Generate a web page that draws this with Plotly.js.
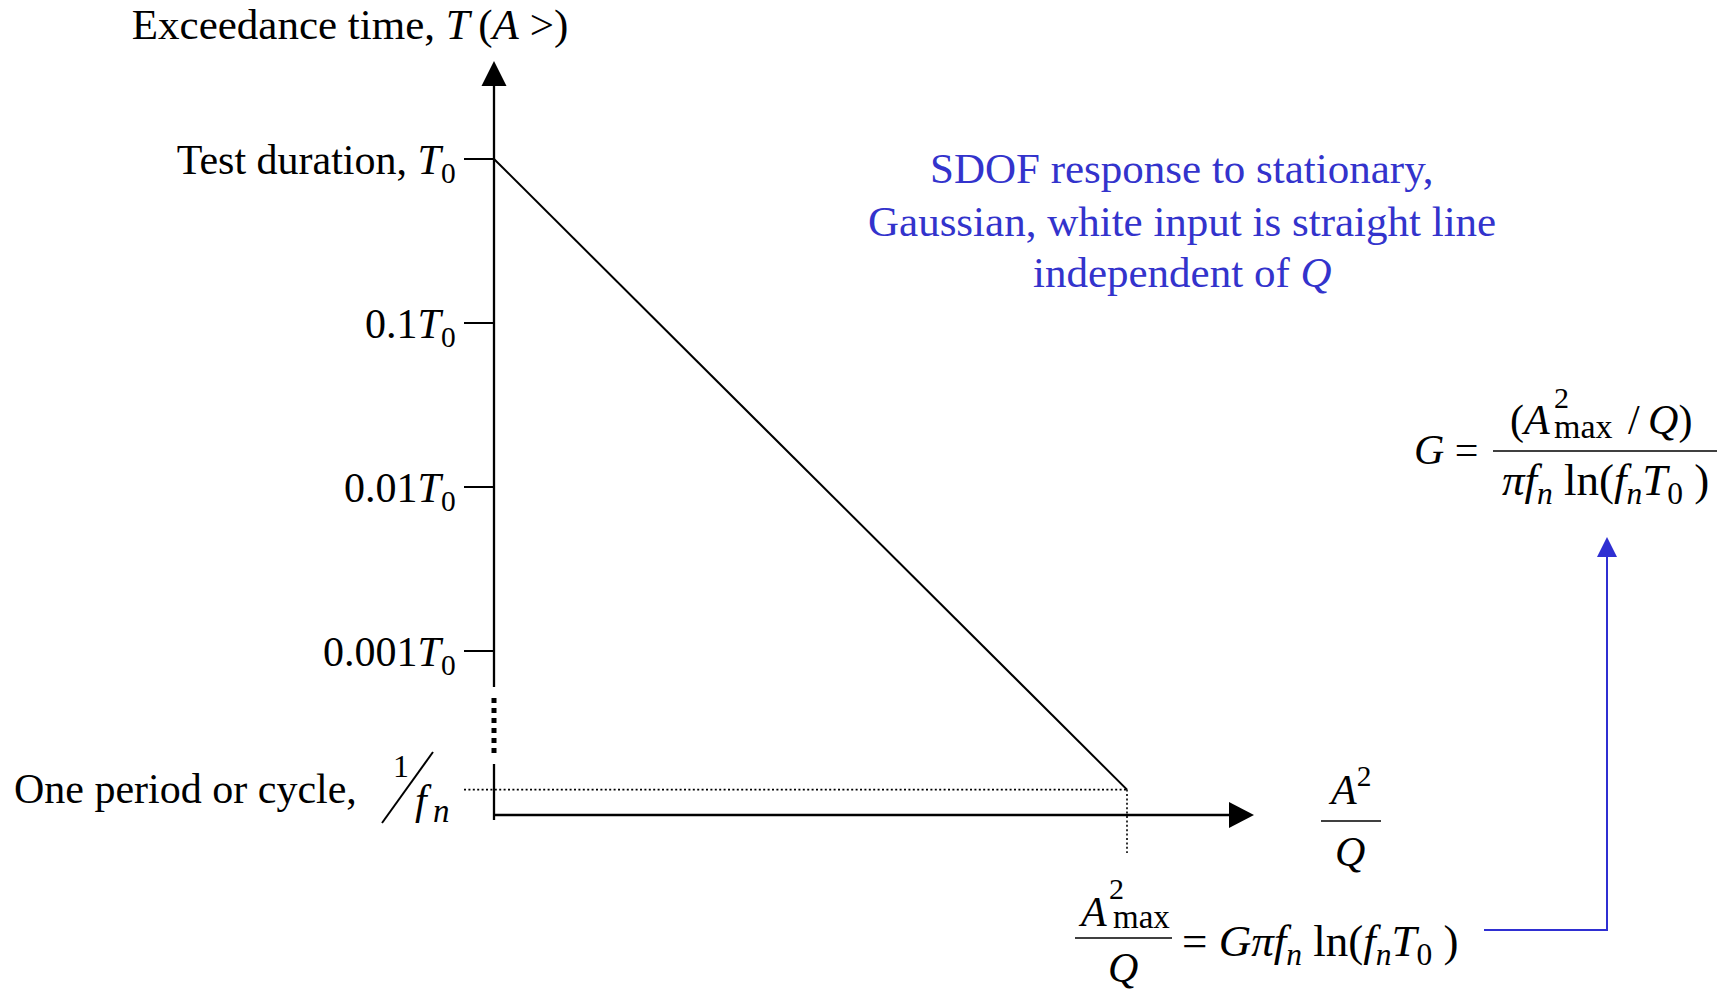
<!DOCTYPE html>
<html>
<head>
<meta charset="utf-8">
<script src="https://cdn.plot.ly/plotly-3.0.1.min.js"></script>
<style>
  html, body { margin: 0; padding: 0; background: #fff; }
  #chart { width: 1732px; height: 993px; }
</style>
</head>
<body>
<div id="chart"></div>
<script>
// Exceedance-time levels marked on the vertical axis (fractions of the test duration T0)
const tickValues = [1, 0.1, 0.01, 0.001];
const tickLabels = [
  'Test duration, <i>T</i><sub>0</sub>',
  '0.1<i>T</i><sub>0</sub>',
  '0.01<i>T</i><sub>0</sub>',
  '0.001<i>T</i><sub>0</sub>'
];
// Number of response cycles during the test, f_n * T0
const cyclesInTest = 7000;
// Straight-line exceedance curve: A^2/Q (relative to A^2max/Q) against exceedance time / T0
const responseLevel = [0, 1];
const exceedanceTime = [1, 1 / cyclesInTest];
const onePeriod = exceedanceTime[1];

// ---- page geometry (pixels) ----
const W = 1732, H = 993;
const X_ORIGIN = 494;   // pixel column of A^2/Q = 0
const X_UNIT = 633;     // pixels per A^2max/Q
const Y_T0 = 159;       // pixel row of T = T0
const Y_DECADE = 164;   // pixels per decade of exceedance time
const SERIF = '"Liberation Serif", "Times New Roman", serif';
const BLUE = '#3333cc';
const LINE_BLUE = '#2f2fd2';
const FS = 42;          // main text size
const NB = '\u00a0';    // non-collapsing space for formula spacing
const THIN = '\u2009';  // thin space

const dataX = px => (px - X_ORIGIN) / X_UNIT;
const dataY = py => Math.pow(10, -(py - Y_T0) / Y_DECADE);
const paperX = px => px / W;
const paperY = py => 1 - py / H;

const TICK_LEN = 30;
const X_AXIS_T = dataY(815);       // level where the horizontal axis crosses

const black = { color: '#000', width: 2.3 };
const thinDots = { color: '#000', width: 1.6, dash: '2px,2.4px' };

const traces = [
  // vertical axis, broken between 0.001T0 and one period
  { x: [0, 0], y: [dataY(687), dataY(80)], mode: 'lines', line: black },
  { x: [0, 0], y: [dataY(698), dataY(758)], mode: 'lines',
    line: { color: '#000', width: 5, dash: '5px,5px' } },
  { x: [0, 0], y: [dataY(764), dataY(820)], mode: 'lines', line: black },
  // horizontal axis
  { x: [dataX(X_ORIGIN - 1), dataX(1235)], y: [X_AXIS_T, X_AXIS_T], mode: 'lines', line: black },
  // guide lines to the end point of the exceedance line
  { x: [dataX(X_ORIGIN - TICK_LEN), responseLevel[1]], y: [onePeriod, onePeriod],
    mode: 'lines', line: thinDots },
  { x: [responseLevel[1], responseLevel[1]], y: [onePeriod, dataY(853)],
    mode: 'lines', line: thinDots },
  // exceedance line
  { x: responseLevel, y: exceedanceTime, mode: 'lines', line: { color: '#000', width: 2 } },
  // connector from the A^2max/Q relation to the G formula
  { x: [dataX(1484), dataX(1607), dataX(1607)], y: [dataY(930), dataY(930), dataY(552)],
    mode: 'lines', line: { color: LINE_BLUE, width: 2 } }
];

function note(text, x, y, opts) {
  const o = Object.assign({ size: FS, color: '#000' }, opts || {});
  return {
    text: text, x: paperX(x), y: paperY(y), xref: 'paper', yref: 'paper',
    showarrow: false, xanchor: o.xanchor || 'center', yanchor: 'middle',
    font: { family: SERIF, size: o.size, color: o.color }
  };
}
function rule(x0, x1, y) {
  return { type: 'line', xref: 'paper', yref: 'paper',
    x0: paperX(x0), x1: paperX(x1), y0: paperY(y), y1: paperY(y),
    line: { color: '#000', width: 1.6 } };
}
// filled triangular arrow head: tip position, direction ('up' | 'right'), length and width in px
function head(tx, ty, dir, len, wid, color) {
  const pts = dir === 'up'
    ? [[tx, ty], [tx - wid / 2, ty + len], [tx + wid / 2, ty + len]]
    : [[tx, ty], [tx - len, ty - wid / 2], [tx - len, ty + wid / 2]];
  const d = 'M' + pts.map(p => paperX(p[0]).toFixed(5) + ',' + paperY(p[1]).toFixed(5)).join('L') + 'Z';
  return { type: 'path', xref: 'paper', yref: 'paper', path: d,
    fillcolor: color, line: { width: 0 } };
}

const lnTerm = 'ln(<i>f</i><sub><i>n</i></sub><i>T</i><sub>0</sub>' + NB + ')';

const annotations = [
  // one-period label on the vertical axis
  note('One period or cycle,', 359, 789, { xanchor: 'right' }),
  note('1', 401, 766, { size: 32 }),
  note('<i>f</i>', 413, 800, { xanchor: 'left' }),
  note('<i>n</i>', 431, 811, { xanchor: 'left', size: 33 }),
  // explanatory note
  note('SDOF response to stationary,', 1182, 169, { size: 43, color: BLUE }),
  note('Gaussian, white input is straight line', 1182, 221, { size: 43, color: BLUE }),
  note('independent of <i>Q</i>', 1182, 272, { size: 43, color: BLUE }),
  // horizontal axis label A^2/Q
  note('<i>A</i><sup>2</sup>', 1349, 786),
  note('<i>Q</i>', 1350, 852),
  // A^2max/Q = G pi f_n ln(f_n T0)
  note('<i>A</i>', 1109, 912, { xanchor: 'right' }),
  note('2', 1116, 888, { size: 30 }),
  note('max', 1111, 917, { xanchor: 'left', size: 33 }),
  note('<i>Q</i>', 1123, 968),
  note('= <i>Gπf</i><sub><i>n</i></sub>' + NB + lnTerm, 1180, 944, { xanchor: 'left', size: 45 }),
  // G formula
  note('<i>G</i> =', 1481, 450, { xanchor: 'right' }),
  note('(<i>A</i>', 1552, 420, { xanchor: 'right' }),
  note('2', 1561, 397, { size: 30 }),
  note('max', 1552, 426, { xanchor: 'left', size: 34 }),
  note('/' + THIN + '<i>Q</i>)', 1626, 420, { xanchor: 'left' }),
  note('<i>πf</i><sub><i>n</i></sub>' + NB + lnTerm, 1605, 483, { size: 45 })
];

const shapes = [
  rule(1321, 1381, 821),          // A^2 / Q bar
  rule(1075, 1172, 938),          // A^2max / Q bar
  rule(1493, 1717, 451),          // G formula bar
  { type: 'line', xref: 'paper', yref: 'paper',   // slash of 1/f_n
    x0: paperX(382), y0: paperY(823), x1: paperX(433), y1: paperY(752),
    line: { color: '#000', width: 2 } },
  head(X_ORIGIN, 61, 'up', 25, 25, '#000'),
  head(1254, 815, 'right', 25, 26, '#000'),
  head(1607, 537, 'up', 20, 20, LINE_BLUE)
];

const layout = {
  width: W, height: H,
  margin: { l: 0, r: 0, t: 0, b: 0, pad: 0 },
  paper_bgcolor: '#fff', plot_bgcolor: '#fff',
  showlegend: false,
  title: {
    text: 'Exceedance time, <i>T</i>' + THIN + '(<i>A</i> &gt;)',
    x: paperX(350), xanchor: 'center', xref: 'paper',
    y: paperY(24), yanchor: 'middle', yref: 'paper',
    font: { family: SERIF, size: 43, color: '#000' }
  },
  xaxis: {
    range: [dataX(0), dataX(W)], visible: false, fixedrange: true
  },
  yaxis: {
    type: 'log',
    range: [-(H - Y_T0) / Y_DECADE, Y_T0 / Y_DECADE],
    anchor: 'free', position: X_ORIGIN / W,
    tickmode: 'array', tickvals: tickValues, ticktext: tickLabels,
    ticks: 'outside', ticklen: TICK_LEN, tickwidth: 2.3, tickcolor: '#000',
    tickfont: { family: SERIF, size: FS, color: '#000' },
    showline: false, showgrid: false, zeroline: false,
    automargin: false, fixedrange: true
  },
  annotations: annotations,
  shapes: shapes
};

Plotly.newPlot('chart', traces, layout, { staticPlot: true, displayModeBar: false });
</script>
</body>
</html>
